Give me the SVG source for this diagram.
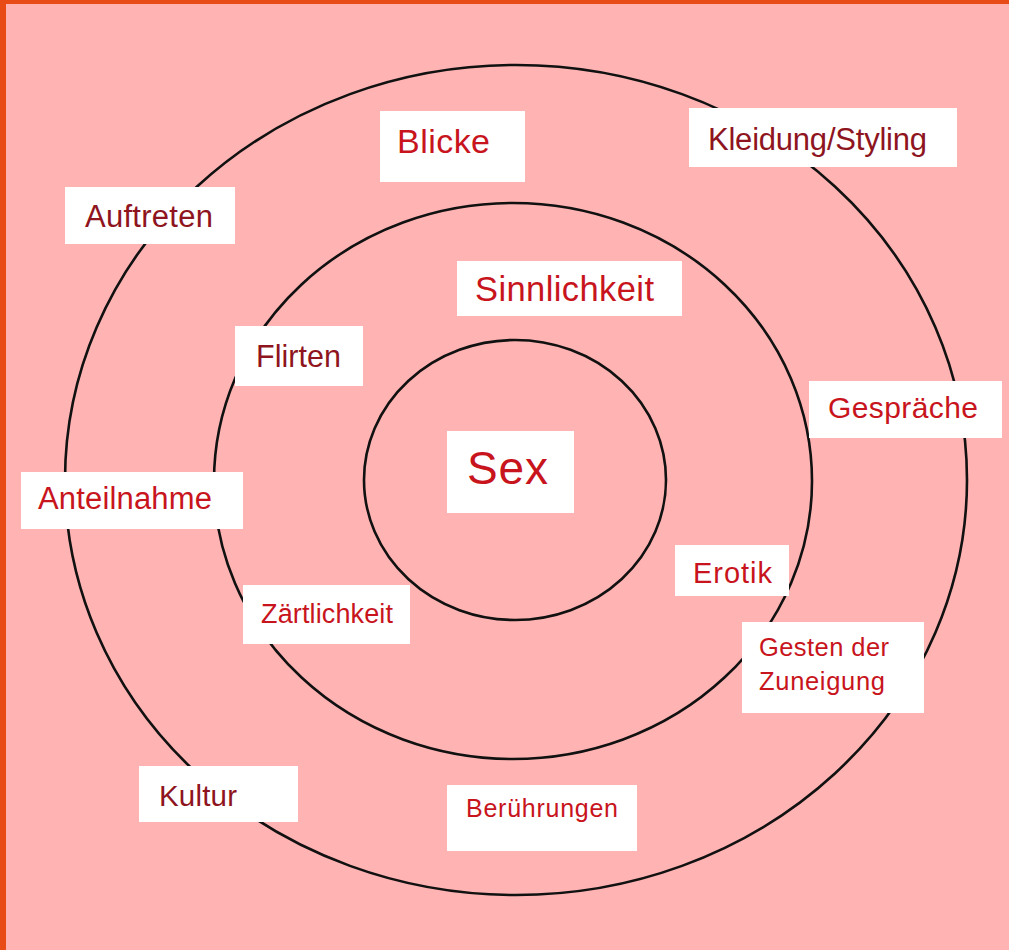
<svg xmlns="http://www.w3.org/2000/svg" width="1009" height="950" viewBox="0 0 1009 950">
<style>
.box{fill:#ffffff}
.ring{fill:none;stroke:#111111;stroke-width:2.6}
text{font-family:"Liberation Sans",Arial,sans-serif}
.dk{fill:#8e1420}
.rd{fill:#c8141c}
</style>
<rect x="0" y="0" width="1009" height="950" fill="#e84b16"/>
<rect x="6" y="4" width="1003" height="946" fill="#ffb3b3"/>
<g id="rings">
<ellipse class="ring" cx="516" cy="480" rx="451" ry="415"/>
<ellipse class="ring" cx="513" cy="481" rx="299" ry="278"/>
<ellipse class="ring" cx="515" cy="480" rx="151" ry="140"/>
</g>
<g id="connectors"></g>
<g id="blicke"><rect class="box" x="380" y="111" width="145" height="71"/><text class="rd" x="397" y="153" font-size="34" textLength="93" lengthAdjust="spacing">Blicke</text></g>
<g id="kleidung"><rect class="box" x="689" y="108" width="268" height="59"/><text class="dk" x="708" y="150" font-size="31" textLength="219" lengthAdjust="spacing">Kleidung/Styling</text></g>
<g id="auftreten"><rect class="box" x="65" y="187" width="170" height="57"/><text class="dk" x="85" y="227" font-size="31" textLength="128" lengthAdjust="spacing">Auftreten</text></g>
<g id="sinnlichkeit"><rect class="box" x="457" y="261" width="225" height="55"/><text class="rd" x="475" y="301" font-size="34.5" textLength="179" lengthAdjust="spacing">Sinnlichkeit</text></g>
<g id="flirten"><rect class="box" x="235" y="326" width="128" height="60"/><text class="dk" x="256" y="367" font-size="30.5" textLength="85" lengthAdjust="spacing">Flirten</text></g>
<g id="gespraeche"><rect class="box" x="809" y="381" width="193" height="57"/><text class="rd" x="828" y="418" font-size="30" textLength="150" lengthAdjust="spacing">Gespräche</text></g>
<g id="sex"><rect class="box" x="447" y="431" width="127" height="82"/><text class="rd" x="467" y="484" font-size="46" textLength="81" lengthAdjust="spacing">Sex</text></g>
<g id="anteilnahme"><rect class="box" x="21" y="472" width="222" height="57"/><text class="rd" x="38" y="509" font-size="31" textLength="174" lengthAdjust="spacing">Anteilnahme</text></g>
<g id="erotik"><rect class="box" x="675" y="545" width="114" height="51"/><text class="rd" x="693" y="583" font-size="29" textLength="79" lengthAdjust="spacing">Erotik</text></g>
<g id="zaertlichkeit"><rect class="box" x="243" y="585" width="167" height="59"/><text class="rd" x="261" y="623" font-size="27" textLength="132" lengthAdjust="spacing">Zärtlichkeit</text></g>
<g id="gesten"><rect class="box" x="742" y="622" width="182" height="91"/><text class="rd" x="759" y="656" font-size="25.5" textLength="130" lengthAdjust="spacing">Gesten der</text><text class="rd" x="759" y="690" font-size="25.5" textLength="126" lengthAdjust="spacing">Zuneigung</text></g>
<g id="kultur"><rect class="box" x="139" y="766" width="159" height="56"/><text class="dk" x="159" y="806" font-size="29.5" textLength="78" lengthAdjust="spacing">Kultur</text></g>
<g id="beruehrungen"><rect class="box" x="447" y="785" width="190" height="66"/><text class="rd" x="466" y="817" font-size="25" textLength="152" lengthAdjust="spacing">Berührungen</text></g>
</svg>
